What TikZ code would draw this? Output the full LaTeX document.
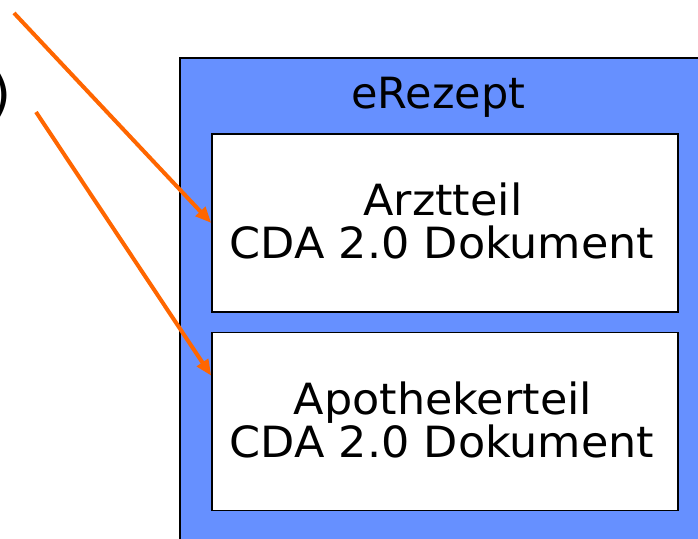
\documentclass[tikz,border=0pt]{standalone}
\usepackage{fontspec}
\setmainfont{DejaVu Sans}
\newfontfamily\wideface{DejaVu Sans}[FakeStretch=1.035]
\usetikzlibrary{arrows.meta,calc}
\definecolor{eblue}{HTML}{6690FF}
\definecolor{eorange}{HTML}{FF6600}
\begin{document}
\begin{tikzpicture}[x=1pt,y=-1pt,
  lbl/.style={font=\fontsize{43}{43}\selectfont, inner sep=0pt, anchor=base},
  boxlbl/.style={lbl, font=\wideface\fontsize{43}{43}\selectfont},
  outerbox/.style={draw=black, line width=1.5pt, fill=eblue, anchor=north west, minimum width=540pt, minimum height=500pt, inner sep=0pt},
  part/.style={draw=black, line width=1.5pt, fill=white, minimum width=466pt, minimum height=178pt, inner sep=0pt},
  link/.style={draw=eorange, line width=4pt, -{Triangle[length=16pt,width=13pt]}}]
\useasboundingbox (0,0) rectangle (698,538);
\begin{scope}
\clip (0,0) rectangle (698,538);
\node[outerbox] (rezept) at (179,57) {};
\node[lbl] (title) at (438.5,108) {eRezept};
\node[part] (box1) at (445,223) {};
\node[part] (box2) at (445,421.5) {};
\node[boxlbl] (t1a) at (443,215) {Arztteil};
\node[boxlbl] (t1b) at (442,258) {CDA 2.0 Dokument};
\node[boxlbl] (t2a) at (443,414) {Apothekerteil};
\node[boxlbl] (t2b) at (442,457) {CDA 2.0 Dokument};
\node[font=\fontsize{54}{54}\selectfont, inner sep=0pt, anchor=base east] (paren) at (12,112) {)};
\coordinate (s1) at (14,13);
\coordinate (s2) at (36,112);
\draw[link] (s1) -- (box1.west);
\draw[link] (s2) -- ($(box2.north west)+(0,44)$);
\end{scope}
\end{tikzpicture}
\end{document}
